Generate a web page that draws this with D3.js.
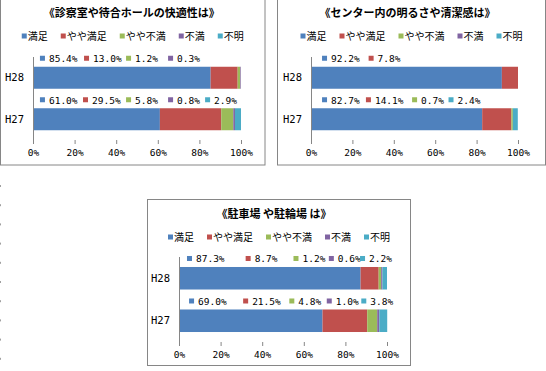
<!DOCTYPE html>
<html>
<head>
<meta charset="utf-8">
<script src="https://cdn.jsdelivr.net/npm/d3@7"></script>
<style>
  body { margin: 0; background: #fff; }
  svg { display: block; }
  .mono { font-family: "DejaVu Sans Mono", "Noto Sans CJK JP", monospace; }
  .jp { font-family: "Noto Sans CJK JP", sans-serif; }
</style>
</head>
<body>
<svg id="chart" width="546" height="371"></svg>
<script>
// Survey answers (percent) - rows are H28, H27
const categories = ["H28", "H27"];
const seriesNames = ["満足", "やや満足", "やや不満", "不満", "不明"];
const colors = ["#4F81BD", "#C0504D", "#9BBB59", "#8064A2", "#4BACC6"];
const ticks = [0, 20, 40, 60, 80, 100];

const titles = [
    "《診察室や待合ホールの快適性は》",
    "《センター内の明るさや清潔感は》",
    "《駐車場 や駐輪場 は》"
];

const comfortH28 = [85.4, 13.0, 1.2, 0.3, 0];
const comfortH27 = [61.0, 29.5, 5.8, 0.8, 2.9];
const cleanH28 = [92.2, 7.8, 0, 0, 0];
const cleanH27 = [82.7, 14.1, 0.7, 0, 2.4];
const parkingH28 = [87.3, 8.7, 1.2, 0.6, 2.2];
const parkingH27 = [69.0, 21.5, 4.8, 1.0, 3.8];

// where the data labels sit along the row (in % units), as in the picture
const labelSlots = [
    [[4.3, 25.5, 45.7, 65.9, 84], [4.3, 25, 45.7, 65.9, 83.7]],
    [[6.3, 28.8, 50, 67, 84], [6.3, 27.5, 49.8, 67.4, 84]],
    [[4.8, 33, 56, 73, 88], [5.8, 31.8, 54, 72, 88.6]]
];

const panels = [
    { rows: [comfortH28, comfortH27], box: [0.5, -10, 264.5, 175], plot: [33, 241, 57, 140], titleY: 13, titleDx: -1, legendY: 36 },
    { rows: [cleanH28, cleanH27], box: [277.5, -10, 268, 175], plot: [311, 518, 57, 140], titleY: 13, titleDx: -4, legendY: 36 },
    { rows: [parkingH28, parkingH27], box: [147.5, 199.5, 263, 166], plot: [179, 387, 257, 342], titleY: 214, titleDx: -5, legendY: 237 }
];

const svg = d3.select("#chart");

// dotted marks along the left edge
svg.selectAll(".edge")
    .data(d3.range(10))
    .join("rect")
    .attr("x", 0).attr("y", i => 185 + i * 19.2)
    .attr("width", 1).attr("height", 2)
    .attr("fill", "#a0a0a0");

panels.forEach((p, pi) => drawPanel(p, pi));

function drawPanel(p, pi) {
    const g = svg.append("g");
    const [bx, by, bw, bh] = p.box;
    const [x0, x1, y0, y1] = p.plot;
    const cx = bx + bw / 2;

    g.append("rect")
        .attr("x", bx).attr("y", by).attr("width", bw).attr("height", bh)
        .attr("fill", "#fff").attr("stroke", "#868686");

    g.append("text")
        .attr("class", "jp")
        .attr("x", cx + p.titleDx).attr("y", p.titleY)
        .attr("dy", "0.35em")
        .attr("text-anchor", "middle")
        .style("font-size", "11px").style("font-weight", "bold")
        .text(titles[pi]);

    // legend, centered
    const legend = g.append("g");
    let lx = 0;
    seriesNames.forEach((name, i) => {
        const item = legend.append("g").attr("transform", `translate(${lx},0)`);
        item.append("rect").attr("x", 0).attr("y", -2.5).attr("width", 5).attr("height", 5).attr("fill", colors[i]);
        const t = item.append("text")
            .attr("class", "jp")
            .attr("x", 6).attr("dy", "0.35em")
            .style("font-size", "10px")
            .text(name);
        lx += 6 + t.node().getComputedTextLength() + 13;
    });
    lx -= 13;
    legend.attr("transform", `translate(${cx - lx / 2},${p.legendY})`);

    const x = d3.scaleLinear().domain([0, 100]).range([x0, x1]);
    const y = d3.scaleBand().domain(categories).range([y0, y1])
        .paddingInner(0.47).paddingOuter(0.235);

    const rows = categories.map((c, ri) => {
        let acc = 0;
        return p.rows[ri].map((v, si) => {
            const d = { cat: c, row: ri, series: si, value: v, start: acc };
            acc += v;
            return d;
        });
    });

    g.selectAll(".bar")
        .data(rows.flat().filter(d => d.value > 0))
        .join("rect")
        .attr("x", d => x(d.start))
        .attr("y", d => y(d.cat))
        .attr("width", d => x(d.start + d.value) - x(d.start))
        .attr("height", y.bandwidth())
        .attr("fill", d => colors[d.series]);

    // value axis: ticks only
    const xAxis = g.append("g")
        .attr("transform", `translate(0,${y1})`)
        .call(d3.axisBottom(x).tickValues(ticks).tickSize(4).tickFormat(d => d + "%"));
    xAxis.select(".domain").remove();
    xAxis.selectAll(".tick line").attr("stroke", "#868686");
    xAxis.selectAll(".tick text")
        .attr("class", "mono")
        .attr("y", 9)
        .style("font-size", "9.5px").attr("fill", "#000");

    // category axis
    const yAxis = g.append("g")
        .attr("transform", `translate(${x0},0)`)
        .call(d3.axisLeft(y).tickSize(0).tickPadding(9));
    yAxis.select(".domain").attr("stroke", "#868686").attr("d", `M0.5,${y0}V${y1}`);
    yAxis.selectAll(".tick text")
        .attr("class", "mono")
        .style("font-size", "10.5px").attr("fill", "#000");

    // data labels with key squares, one row above each bar
    rows.forEach((row, ri) => {
        const ly = y(categories[ri]) - 8;
        row.filter(d => d.value > 0).forEach((d, k) => {
            const sx = x(labelSlots[pi][ri][k]);
            g.append("rect")
                .attr("x", sx - 2).attr("y", ly - 3)
                .attr("width", 5).attr("height", 5)
                .attr("fill", colors[d.series]);
            g.append("text")
                .attr("class", "mono")
                .attr("x", sx + 7).attr("y", ly)
                .attr("dy", "0.35em")
                .style("font-size", "9.5px")
                .text(d.value.toFixed(1) + "%");
        });
    });
}
</script>
</body>
</html>
